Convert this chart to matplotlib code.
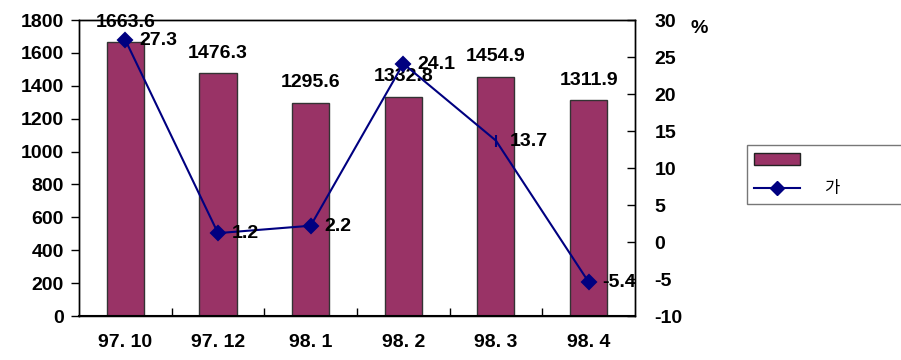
import matplotlib
matplotlib.use("Agg")
from matplotlib import pyplot as plt
from matplotlib.lines import Line2D
from matplotlib.patches import Patch

months = ["97. 10", "97. 12", "98. 1", "98. 2", "98. 3", "98. 4"]
amounts = [1663.6, 1476.3, 1295.6, 1332.8, 1454.9, 1311.9]
growth = [27.3, 1.2, 2.2, 24.1, 13.7, -5.4]
growth_markers = ["D", "D", "D", "D", "|", "D"]

bar_color = "#993366"
line_color = "#000080"

plt.rcParams["font.family"] = ["Liberation Sans", "Noto Sans CJK KR", "DejaVu Sans"]
plt.rcParams["font.weight"] = "bold"
plt.rcParams["font.size"] = 14
plt.rcParams["axes.unicode_minus"] = False

fig = plt.figure(figsize=(9.01, 3.6), dpi=100)
ax = fig.add_axes([0.0877, 0.1222, 0.617, 0.8222])
ax2 = ax.twinx()

x = list(range(len(months)))

# bars on the left axis
ax.bar(x, amounts, width=0.4, color=bar_color, edgecolor="#333333", linewidth=1, zorder=2)
for xi, v in zip(x, amounts):
    ax.annotate(f"{v:.1f}", (xi, v), xytext=(0, 14.5), textcoords="offset points",
                ha="center", va="center", fontsize=14, fontweight="bold")

ax.set_xlim(-0.5, len(months) - 0.5)
ax.set_ylim(0, 1800)
ax.set_yticks(range(0, 1801, 200))
ax.set_xticks(x)
ax.set_xticklabels(months, fontweight="bold")
ax.tick_params(axis="x", length=0, pad=13)
ax.set_xticks([i + 0.5 for i in x[:-1]], minor=True)
ax.tick_params(axis="x", which="minor", direction="in", length=6, width=1)
ax.tick_params(axis="y", direction="out", length=6, width=1, pad=5)

# growth line on the right axis
ax2.plot(x, growth, color=line_color, linewidth=1.5, zorder=3)
for xi, v, m in zip(x, growth, growth_markers):
    ax2.plot(xi, v, marker=m, color=line_color, markersize=7 if m == "D" else 9,
             markeredgewidth=1.5, zorder=4)
    ax2.annotate(f"{v:.1f}", (xi, v), xytext=(10, -0.5), textcoords="offset points",
                 ha="left", va="center", fontsize=14, fontweight="bold")
ax2.set_ylim(-10, 30)
ax2.set_yticks(range(-10, 31, 5))
ax2.tick_params(axis="y", direction="in", length=6, width=1, pad=14)
ax2.text(1.1, 0.97, "%", transform=ax2.transAxes, fontsize=14, fontweight="bold",
         ha="left", va="center")

for a in (ax, ax2):
    for s in a.spines.values():
        s.set_linewidth(1)
ax.spines["bottom"].set_linewidth(1.5)

handles = [Patch(facecolor=bar_color, edgecolor="#222222", linewidth=1),
           Line2D([], [], color=line_color, marker="D", markersize=7, linewidth=1.5)]
fig.legend(handles, ["", "가"], loc="lower left",
           bbox_to_anchor=(0.829, 0.433, 0.2, 0.194), mode="expand", borderaxespad=0,
           fancybox=False, edgecolor="#555555", handlelength=2.8, handletextpad=1.4,
           prop={"family": ["Noto Sans CJK KR"], "size": 12, "weight": "normal"},
           labelspacing=0.7)

fig.savefig("out.png", dpi=100)
